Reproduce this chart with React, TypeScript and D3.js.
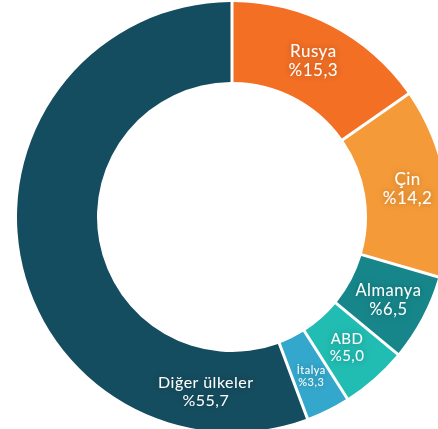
import React, { useRef, useEffect } from 'react';
import * as d3 from 'd3';

// share of total, %
const countries = ['Rusya', 'Çin', 'Almanya', 'ABD', 'İtalya', 'Diğer ülkeler'];
const shares = [15.3, 14.2, 6.5, 5.0, 3.3, 55.7];
const shareLabels = ['%15,3', '%14,2', '%6,5', '%5,0', '%3,3', '%55,7'];
const colors = ['#F36F24', '#F59A38', '#16868A', '#21BCB2', '#34A8CC', '#144D5F'];

const App = () => {
  const svgRef = useRef<SVGSVGElement>(null);

  useEffect(() => {
    const width = 438;
    const height = 429;
    const cx = 232;
    const cy = 217;
    const outer = 215;
    const inner = 135;

    const svg = d3.select(svgRef.current)
      .attr('width', width)
      .attr('height', height)
      .style('display', 'block')
      .style('position', 'absolute')
      .style('left', 0)
      .style('top', 0);

    svg.selectAll('*').remove();

    const defs = svg.append('defs');
    const glow = defs.append('filter')
      .attr('id', 'glow')
      .attr('x', '-30%').attr('y', '-40%')
      .attr('width', '160%').attr('height', '180%');
    glow.append('feDropShadow')
      .attr('dx', 0).attr('dy', 0)
      .attr('stdDeviation', 3.5)
      .attr('flood-color', '#000')
      .attr('flood-opacity', 0.3);

    const data = countries.map((c, i) => ({ name: c, value: shares[i], label: shareLabels[i], color: colors[i] }));

    const pie = d3.pie<any>()
      .value(d => d.value)
      .sort(null);

    const arc = d3.arc<any>()
      .innerRadius(inner)
      .outerRadius(outer)
      .padRadius(100)
      .padAngle(0.03);

    const g = svg.append('g').attr('transform', `translate(${cx},${cy})`);
    const arcs = pie(data);

    g.selectAll('path')
      .data(arcs)
      .enter()
      .append('path')
      .attr('d', arc)
      .attr('fill', d => d.data.color);

    // label placement: radius and position within slice (0 = start, 1 = end)
    const labelRadius = [176, 178, 177, 174, 178, 176];
    const labelPos = [0.5, 0.5, 0.5, 0.5, 0.5, 0.145];
    const fontSizes = [17, 17, 16.5, 15, 11, 16];
    const lineGap = [19, 19, 18.5, 17, 12.5, 18];

    arcs.forEach((a, i) => {
      const ang = a.startAngle + (a.endAngle - a.startAngle) * labelPos[i];
      const x = labelRadius[i] * Math.sin(ang);
      const y = -labelRadius[i] * Math.cos(ang);
      const t = g.append('text')
        .attr('x', x)
        .attr('y', y)
        .attr('text-anchor', 'middle')
        .attr('fill', '#fff')
        .attr('font-family', 'Lato, sans-serif')
        .attr('font-size', fontSizes[i])
        .attr('letter-spacing', 0.5)
        .attr('filter', 'url(#glow)');
      t.append('tspan')
        .attr('x', x)
        .attr('dy', -lineGap[i] / 2 + fontSizes[i] * 0.35)
        .text(a.data.name);
      t.append('tspan')
        .attr('x', x)
        .attr('dy', lineGap[i])
        .text(a.data.label);
    });
  }, []);

  return <svg ref={svgRef}></svg>;
};

export default App;
